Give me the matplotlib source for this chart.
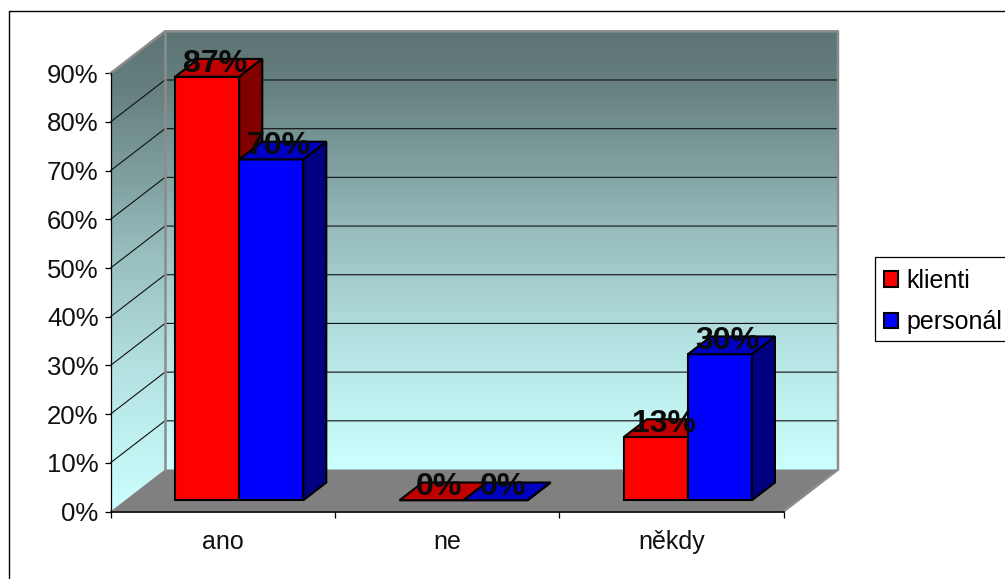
import matplotlib
matplotlib.use('Agg')
import matplotlib.pyplot as plt
from matplotlib.lines import Line2D
from matplotlib.patches import Polygon, Patch, Rectangle
import numpy as np

plt.rcParams['font.family'] = ['Liberation Sans', 'DejaVu Sans']

categories = ['ano', 'ne', 'někdy']
klienti = [87, 0, 13]
personal = [70, 0, 30]
y_ticks = [0, 10, 20, 30, 40, 50, 60, 70, 80, 90]
series = [('klienti', klienti, '#ff0000', '#c00000', '#800000'),
          ('personál', personal, '#0000ff', '#0000c0', '#000080')]

W, H = 1005, 579
fig = plt.figure(figsize=(W / 100, H / 100), dpi=100)

# front plane of the 3D box
px_left, px_right = 110.5, 783.5
px_bottom, px_top = 511.5, 73.3
ax = fig.add_axes([px_left / W, 1 - px_bottom / H, (px_right - px_left) / W, (px_bottom - px_top) / H])
ax.set_xlim(0, 3)
ax.set_ylim(0, 90)
ax.patch.set_visible(False)

# depth of the box, in data units
dx = 3 * 54.5 / (px_right - px_left)
dy = 90 * 42 / (px_bottom - px_top)


def pt(x, y, d=0.0):
    return (x + d * dx, y + d * dy)


def gradient_wall(corners, y_low, y_high):
    ramp = np.linspace(0, 1, 256)
    ramp = np.interp(ramp, [0, 0.11, 0.31, 0.46, 0.72, 1], [0, 0.07, 0.32, 0.53, 0.8, 1])[:, None]
    top = np.array([93, 116, 116]) / 255
    bottom = np.array([204, 255, 255]) / 255
    img = (top + (bottom - top) * ramp)[:, None, :]
    im = ax.imshow(img, extent=(0, 3 + dx, y_low, y_high), origin='upper', aspect='auto',
                   interpolation='bilinear', zorder=1)
    poly = Polygon(corners, transform=ax.transData, fc='none', ec='none')
    im.set_clip_path(poly)
    im.set_clip_box(fig.bbox)
    im.set_clip_on(True)


# side and back walls, floor
gradient_wall([pt(0, 0), pt(0, 90), pt(0, 90, 1), pt(0, 0, 1)], 0, 90 + dy)
gradient_wall([pt(0, 0, 1), pt(0, 90, 1), pt(3, 90, 1), pt(3, 0, 1)], dy, 90 + dy)
ax.set_xlim(0, 3)
ax.set_ylim(0, 90)
ax.add_patch(Polygon([pt(0, 0), pt(3, 0), pt(3, 0, 1), pt(0, 0, 1)], fc='#808080', ec='none',
                     clip_on=False, zorder=2))

# grid lines on both walls
for v in y_ticks[1:-1]:
    ax.add_line(Line2D(*zip(pt(0, v), pt(0, v, 1), pt(3, v, 1)), color='#111111', lw=0.8,
                       clip_on=False, zorder=3))

# wall outline
ax.add_line(Line2D(*zip(pt(0, 90), pt(0, 90, 1), pt(3, 90, 1), pt(3, 0, 1), pt(3, 0)),
                   color='#8c8c8c', lw=1.8, clip_on=False, zorder=3))
ax.add_line(Line2D(*zip(pt(0, 0, 1), pt(0, 90, 1)), color='#8c8c8c', lw=1.8, clip_on=False, zorder=3))

# bars
bar_w = 64 / 224.3
d_front, d_back = 0.267, 0.69
shift = 0.009
for i, (name, values, c_front, c_top, c_side) in enumerate(series):
    for j, v in enumerate(values):
        x0 = j + 0.5 + shift + (i - 1) * bar_w
        x1 = x0 + bar_w
        z = 5 + i * 3 + j
        ax.add_patch(Polygon([pt(x0, 0, d_front), pt(x1, 0, d_front), pt(x1, v, d_front), pt(x0, v, d_front)],
                             fc=c_front, ec='black', lw=1.5, joinstyle='miter', clip_on=False, zorder=z))
        ax.add_patch(Polygon([pt(x0, v, d_front), pt(x1, v, d_front), pt(x1, v, d_back), pt(x0, v, d_back)],
                             fc=c_top, ec='black', lw=1.5, joinstyle='miter', clip_on=False, zorder=z))
        ax.add_patch(Polygon([pt(x1, 0, d_front), pt(x1, 0, d_back), pt(x1, v, d_back), pt(x1, v, d_front)],
                             fc=c_side, ec='black', lw=1.5, joinstyle='miter', clip_on=False, zorder=z))
        lx, ly = pt(x0 + bar_w / 2, v, d_front)
        ax.annotate(f'{v}%', (lx, ly), xytext=(5.5, 3.6), textcoords='offset points', ha='center',
                    va='baseline', fontsize=23, fontweight='bold', color='#0a0a0a', zorder=20,
                    annotation_clip=False)

# axes
for side in ['top', 'right']:
    ax.spines[side].set_visible(False)
for side in ['left', 'bottom']:
    ax.spines[side].set_linewidth(1.2)
    ax.spines[side].set_zorder(4)
ax.spines['left'].set_linewidth(0.9)
ax.set_yticks(y_ticks)
ax.set_yticklabels([f'{v}%' for v in y_ticks], fontsize=18.5, color='#111111')
ax.set_xticks(range(4))
ax.set_xticklabels([])
ax.set_xticks([0.5, 1.5, 2.5], minor=True)
ax.set_xticklabels(categories, minor=True, fontsize=18, color='#111111')
ax.tick_params(axis='x', which='major', length=4.5, width=0.9, direction='out')
ax.tick_params(axis='x', which='minor', length=0, pad=13.5)
ax.tick_params(axis='y', length=4.5, width=0.9, pad=4)

# legend, with its box drawn separately because it runs off the right edge
fig.add_artist(Rectangle((874.5 / W, 1 - 340.5 / H), 140 / W, 84 / H, fc='white', ec='black', lw=0.9,
                         transform=fig.transFigure, zorder=1))
handles = [Patch(fc=s[2], ec='black', lw=1.5, label=s[0]) for s in series]
leg = fig.legend(handles=handles, loc='upper left', bbox_to_anchor=(873.3 / W, 1 - 258.5 / H), bbox_transform=fig.transFigure,
                 fontsize=18, frameon=False,
                 handlelength=0.58, handleheight=0.58, handletextpad=0.33, labelspacing=0.7, borderpad=0.42,
                 borderaxespad=0)

# chart area border
fig.add_artist(Line2D([8.5 / W, 8.5 / W, 1], [0, 1 - 10.5 / H, 1 - 10.5 / H], color='black', lw=1.0,
                      transform=fig.transFigure))

fig.savefig('out.png', dpi=100, facecolor='white')
